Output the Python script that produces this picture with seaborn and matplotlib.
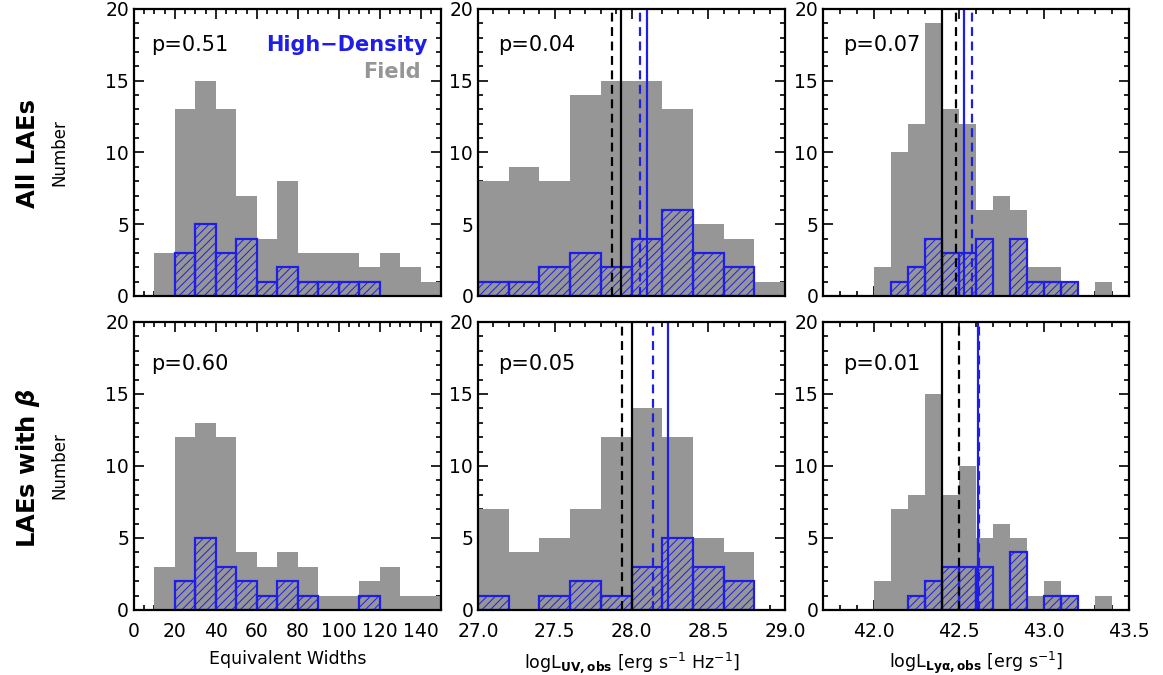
import numpy as np
import pandas as pd
import matplotlib
matplotlib.use("Agg")
import matplotlib.pyplot as plt
import seaborn as sns
from matplotlib.ticker import MultipleLocator

# ---------------- data (counts per bin) ----------------
ew_edges = [10, 20, 30, 40, 50, 60, 70, 80, 90, 100, 110, 120, 130, 140, 150]
ew_field_all = [3, 13, 15, 13, 7, 4, 8, 3, 3, 3, 2, 3, 2, 1]
ew_hd_all = [0, 3, 5, 3, 4, 1, 2, 1, 1, 1, 1, 0, 0, 0]
ew_field_beta = [3, 12, 13, 12, 4, 3, 4, 3, 1, 1, 2, 3, 1, 1]
ew_hd_beta = [0, 2, 5, 3, 2, 1, 2, 1, 0, 0, 1, 0, 0, 0]

uv_edges = [27.0, 27.2, 27.4, 27.6, 27.8, 28.0, 28.2, 28.4, 28.6, 28.8, 29.0]
uv_field_all = [8, 9, 8, 14, 15, 15, 13, 5, 4, 1]
uv_hd_all = [1, 1, 2, 3, 2, 4, 6, 3, 2, 0]
uv_field_beta = [7, 4, 5, 7, 12, 14, 12, 5, 4, 0]
uv_hd_beta = [1, 0, 1, 2, 1, 3, 5, 3, 2, 0]

lya_edges = [42.0, 42.1, 42.2, 42.3, 42.4, 42.5, 42.6, 42.7, 42.8, 42.9,
             43.0, 43.1, 43.2, 43.3, 43.4]
lya_field_all = [2, 10, 12, 19, 13, 12, 6, 7, 6, 2, 2, 1, 0, 1]
lya_hd_all = [0, 1, 2, 4, 3, 3, 4, 0, 4, 1, 1, 1, 0, 0]
lya_field_beta = [2, 7, 8, 15, 8, 10, 5, 6, 5, 1, 2, 1, 0, 1]
lya_hd_beta = [0, 0, 1, 2, 3, 3, 3, 0, 4, 0, 1, 1, 0, 0]

# reference lines: field median (solid black), field mean (dashed black),
# high-density median (solid blue), high-density mean (dashed blue)
uv_lines_all = [27.93, 27.875, 28.10, 28.055]
uv_lines_beta = [28.00, 27.935, 28.24, 28.14]
lya_lines_all = [42.40, 42.485, 42.53, 42.575]
lya_lines_beta = [42.40, 42.50, 42.61, 42.62]

p_all = ["p=0.51", "p=0.04", "p=0.07"]
p_beta = ["p=0.60", "p=0.05", "p=0.01"]

row_labels = ["All LAEs", r"LAEs with $\beta$"]
x_labels = ["Equivalent Widths",
            r"logL$_{\mathbf{UV,obs}}$ [erg s$^{-1}$ Hz$^{-1}$]",
            r"logL$_{\mathbf{Ly\alpha,obs}}$ [erg s$^{-1}$]"]

# ---------------- style ----------------
sns.set_style("white")
GREY = "#969696"
BLUE = "#1e1ee6"
plt.rcParams["font.family"] = ["DejaVu Sans"]
plt.rcParams["text.color"] = "black"
plt.rcParams["axes.labelcolor"] = "black"
plt.rcParams["xtick.color"] = "black"
plt.rcParams["ytick.color"] = "black"
plt.rcParams["mathtext.fontset"] = "custom"
plt.rcParams["mathtext.rm"] = "DejaVu Sans"
plt.rcParams["mathtext.it"] = "DejaVu Sans:italic:bold"
plt.rcParams["mathtext.bf"] = "DejaVu Sans:bold"
plt.rcParams["hatch.color"] = BLUE
plt.rcParams["hatch.linewidth"] = 0.7

fig = plt.figure(figsize=(11.63, 6.75), dpi=100)

lefts = [0.1152, 0.4110, 0.7077]
widths = [0.2640, 0.2640, 0.2631]
rows = [(0.5615, 0.4252), (0.0963, 0.4267)]

xlims = [(0, 150), (27.0, 29.0), (41.7, 43.5)]
xmaj = [20, 0.5, 0.5]
xmin = [5, 0.1, 0.1]

data = [
    [(ew_edges, ew_field_all, ew_hd_all, None),
     (uv_edges, uv_field_all, uv_hd_all, uv_lines_all),
     (lya_edges, lya_field_all, lya_hd_all, lya_lines_all)],
    [(ew_edges, ew_field_beta, ew_hd_beta, None),
     (uv_edges, uv_field_beta, uv_hd_beta, uv_lines_beta),
     (lya_edges, lya_field_beta, lya_hd_beta, lya_lines_beta)],
]
pvals = [p_all, p_beta]


def centers(edges):
    e = np.asarray(edges, dtype=float)
    return (e[:-1] + e[1:]) / 2.0


for r in range(2):
    b, h = rows[r]
    for c in range(3):
        ax = fig.add_axes([lefts[c], b, widths[c], h])
        edges, field, hd, lines = data[r][c]
        xc = centers(edges)
        df = pd.DataFrame({"x": xc, "field": field, "hd": hd})

        n0 = len(ax.patches)
        sns.histplot(data=df, x="x", weights="field", bins=edges, ax=ax,
                     color=GREY, alpha=1, edgecolor="none", linewidth=0)
        sns.histplot(data=df, x="x", weights="hd", bins=edges, ax=ax,
                     facecolor="none", edgecolor=BLUE, linewidth=1.6,
                     hatch="////", alpha=1)
        for p in ax.patches[n0:]:
            if p.get_height() == 0:
                p.set_visible(False)

        if lines is not None:
            ax.axvline(lines[0], color="black", lw=1.6, ls="-")
            ax.axvline(lines[1], color="black", lw=1.6, ls=(0, (4, 2.5)))
            ax.axvline(lines[2], color=BLUE, lw=1.6, ls="-")
            ax.axvline(lines[3], color=BLUE, lw=1.6, ls=(0, (4, 2.5)))

        ax.set_xlim(*xlims[c])
        ax.set_ylim(0, 20)
        ax.xaxis.set_major_locator(MultipleLocator(xmaj[c]))
        ax.xaxis.set_minor_locator(MultipleLocator(xmin[c]))
        ax.yaxis.set_major_locator(MultipleLocator(5))
        ax.yaxis.set_minor_locator(MultipleLocator(1))
        ax.tick_params(which="both", direction="in", top=True, right=True,
                       bottom=True, left=True,
                       labelsize=13.5, width=1.2, color="black",
                       labelcolor="black")
        ax.tick_params(which="major", length=7)
        ax.tick_params(which="minor", length=3.5)
        ax.tick_params(axis="x", pad=9)
        for s in ax.spines.values():
            s.set_linewidth(1.6)
            s.set_color("black")
            s.set_visible(True)

        if c == 0:
            ax.set_ylabel("Number", fontsize=12, color="black")
            ax.yaxis.set_label_coords(-0.215, 0.5)
        else:
            ax.set_ylabel("")

        if r == 1:
            if c == 0:
                ax.set_xticks([0, 20, 40, 60, 80, 100, 120, 140])
                ax.set_xticklabels(["0", "20", "40", "60", "80", "100", "120", "140"])
            elif c == 1:
                ax.set_xticks([27.0, 27.5, 28.0, 28.5, 29.0])
                ax.set_xticklabels(["27.0", "27.5", "28.0", "28.5", "29.0"])
            else:
                ax.set_xticks([42.0, 42.5, 43.0, 43.5])
                ax.set_xticklabels(["42.0", "42.5", "43.0", "43.5"])
            ax.set_xlabel(x_labels[c], fontsize=12.5, labelpad=6, color="black")
        else:
            ax.set_xticklabels([])
            ax.set_xlabel("")

        px = 0.055 if c == 0 else 0.065
        py = 0.875 if r == 0 else 0.855
        ax.text(px, py, pvals[r][c], transform=ax.transAxes, fontsize=15,
                ha="left", va="center", color="black")

        if r == 0 and c == 0:
            ax.text(0.955, 0.875, "High\u2212Density", transform=ax.transAxes,
                    fontsize=15, fontweight="bold", color=BLUE,
                    ha="right", va="center")
            ax.text(0.935, 0.78, "Field", transform=ax.transAxes,
                    fontsize=15, fontweight="bold", color=GREY,
                    ha="right", va="center")

fig.text(28 / 1163, 1 - 153 / 675, row_labels[0], rotation=90, fontsize=17.5,
         fontweight="bold", ha="center", va="center", color="black")
fig.text(28 / 1163, 1 - 468 / 675, row_labels[1], rotation=90, fontsize=17.5,
         fontweight="bold", ha="center", va="center", color="black")

fig.savefig("out.png", dpi=100)
